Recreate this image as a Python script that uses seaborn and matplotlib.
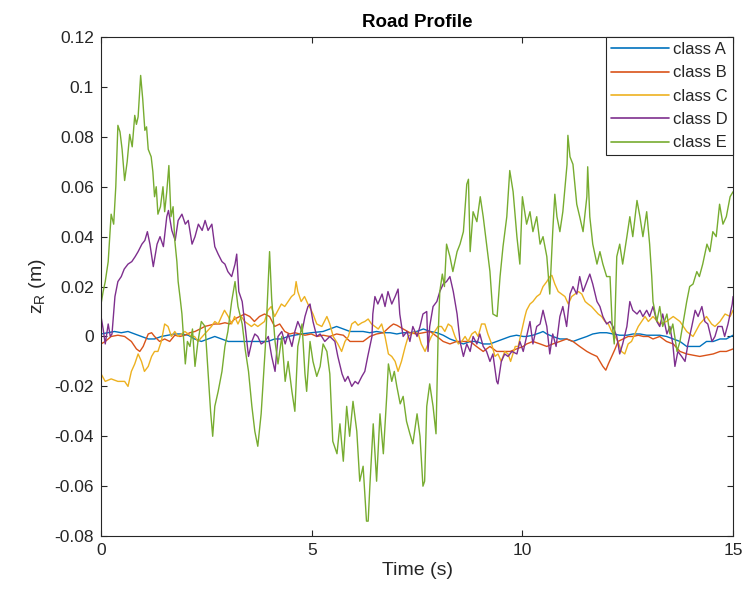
import numpy as np
import pandas as pd
import matplotlib
matplotlib.use("Agg")
import matplotlib.pyplot as plt
from matplotlib.ticker import FuncFormatter
import seaborn as sns

# ---------------- data ----------------
classes = ["class A", "class B", "class C", "class D", "class E"]
colors = ["#0072BD", "#D95319", "#EDB120", "#7E2F8E", "#77AC30"]

t_A = [0.0, 0.16, 0.32, 0.48, 0.64, 0.8, 0.96, 1.12, 1.27, 1.43, 1.59, 1.75, 1.91, 2.07, 2.22, 2.38, 2.54, 2.7,
       2.86, 3.02, 3.17, 3.33, 3.49, 3.64, 3.8, 3.96, 4.12, 4.28, 4.44, 4.59, 4.75, 4.99, 5.27, 5.43, 5.59, 5.75,
       5.91, 6.07, 6.22, 6.38, 6.54, 6.7, 6.86, 7.02, 7.17, 7.33, 7.49, 7.65, 7.81, 7.97, 8.12, 8.28, 8.44, 8.6,
       8.76, 8.91, 9.07, 9.23, 9.39, 9.55, 9.71, 9.86, 10.02, 10.1, 10.25, 10.42, 10.49, 10.58, 10.72, 10.89,
       11.05, 11.2, 11.36, 11.53, 11.67, 11.84, 12.0, 12.15, 12.31, 12.48, 12.63, 12.79, 12.95, 13.1, 13.26,
       13.42, 13.58, 13.74, 13.9, 14.05, 14.21, 14.37, 14.53, 14.69, 14.84, 15.0]
z_A = [0.001, 0.0015, 0.002, 0.0015, 0.002, 0.001, 0.0, -0.001, -0.001, 0.0, 0.0005, 0.001, 0.001, 0.0005, -0.001,
       -0.002, -0.001, 0.0, -0.001, -0.002, -0.002, -0.002, -0.002, -0.002, -0.002, -0.002, -0.001, -0.001, 0.0,
       0.0005, 0.001, 0.0015, 0.002, 0.003, 0.004, 0.003, 0.002, 0.002, 0.002, 0.0015, 0.002, 0.0015, 0.0015, 0.001,
       0.0015, 0.0015, 0.002, 0.003, 0.002, 0.0015, 0.0005, -0.001, -0.002, -0.003, -0.002, -0.002, -0.003, -0.003,
       -0.002, -0.001, 0.0, 0.0005, 0.0, 0.0, 0.0005, 0.0015, 0.002, 0.001, 0.0, -0.001, -0.001, -0.002, -0.001, 0.0,
       0.001, 0.0015, 0.0015, 0.001, 0.0005, 0.0005, 0.001, 0.001, 0.0005, 0.0005, 0.0005, 0.0, -0.001, -0.002,
       -0.004, -0.004, -0.004, -0.002, -0.002, -0.001, -0.001, 0.0005]

t_B = [0.0, 0.1, 0.24, 0.4, 0.56, 0.72, 0.84, 0.92, 1.0, 1.12, 1.2, 1.27, 1.39, 1.51, 1.63, 1.75, 1.87, 1.99, 2.11,
       2.23, 2.35, 2.46, 2.58, 2.7, 2.82, 2.94, 3.06, 3.17, 3.29, 3.41, 3.53, 3.64, 3.76, 3.88, 4.0, 4.12, 4.24,
       4.36, 4.48, 4.6, 4.72, 4.84, 4.99, 5.12, 5.27, 5.43, 5.59, 5.75, 5.91, 6.07, 6.22, 6.38, 6.54, 6.7, 6.86,
       6.94, 7.02, 7.17, 7.33, 7.49, 7.65, 7.81, 7.97, 8.12, 8.28, 8.44, 8.6, 8.76, 8.91, 9.07, 9.23, 9.39, 9.55,
       9.71, 9.86, 10.02, 10.1, 10.25, 10.42, 10.58, 10.72, 10.89, 11.05, 11.2, 11.36, 11.53, 11.64, 11.77, 11.84,
       11.91, 11.98, 12.04, 12.12, 12.2, 12.27, 12.39, 12.51, 12.63, 12.75, 12.87, 12.99, 13.1, 13.26, 13.42, 13.58,
       13.74, 13.9, 14.05, 14.21, 14.37, 14.53, 14.69, 14.84, 15.0]
z_B = [-0.003, -0.002, 0.0, 0.0005, 0.0, -0.002, -0.005, -0.006, -0.004, 0.001, 0.0015, 0.0, -0.002, -0.001, -0.002,
       0.0005, 0.0, 0.0005, 0.0015, 0.002, 0.003, 0.004, 0.0045, 0.005, 0.005, 0.0055, 0.005, 0.007, 0.008, 0.009,
       0.008, 0.006, 0.008, 0.009, 0.008, 0.004, 0.005, 0.002, 0.001, 0.0015, 0.001, 0.0005, 0.001, 0.0, 0.0005, 0.0,
       0.001, 0.0005, -0.002, -0.002, -0.002, 0.0, 0.001, 0.0015, 0.004, 0.005, 0.0045, 0.003, 0.0015, 0.001, 0.0015,
       0.002, 0.0, -0.002, -0.003, -0.002, -0.002, -0.002, -0.004, -0.006, -0.004, -0.006, -0.006, -0.006, -0.005,
       -0.004, -0.003, -0.002, -0.003, -0.004, -0.003, -0.002, -0.001, -0.002, -0.004, -0.006, -0.007, -0.008,
       -0.01, -0.012, -0.0135, -0.011, -0.008, -0.005, -0.002, -0.001, 0.0, 0.0, 0.0005, 0.0, 0.0, -0.001, 0.0,
       -0.002, -0.003, -0.006, -0.007, -0.0075, -0.008, -0.0075, -0.007, -0.006, -0.006, -0.005]

t_C = [0.0, 0.1, 0.24, 0.4, 0.56, 0.64, 0.72, 0.8, 0.88, 0.96, 1.03, 1.12, 1.2, 1.27, 1.35, 1.43, 1.51, 1.59, 1.67,
       1.75, 1.83, 1.91, 1.99, 2.07, 2.15, 2.22, 2.3, 2.46, 2.62, 2.7, 2.78, 2.86, 2.93, 3.02, 3.1, 3.17, 3.25, 3.33,
       3.41, 3.57, 3.64, 3.72, 3.8, 3.88, 3.96, 4.04, 4.12, 4.2, 4.28, 4.36, 4.44, 4.52, 4.59, 4.63, 4.67, 4.75,
       4.83, 4.91, 4.99, 5.03, 5.12, 5.24, 5.36, 5.43, 5.51, 5.62, 5.71, 5.79, 5.87, 5.95, 6.03, 6.1, 6.19, 6.26,
       6.34, 6.42, 6.5, 6.58, 6.66, 6.74, 6.82, 6.9, 6.98, 7.05, 7.13, 7.22, 7.29, 7.37, 7.45, 7.53, 7.6, 7.69,
       7.76, 7.84, 7.92, 8.0, 8.08, 8.16, 8.24, 8.32, 8.4, 8.48, 8.56, 8.64, 8.71, 8.8, 8.88, 8.95, 9.03, 9.11,
       9.18, 9.27, 9.35, 9.42, 9.5, 9.58, 9.66, 9.72, 9.83, 9.9, 9.98, 10.06, 10.1, 10.18, 10.25, 10.34, 10.42,
       10.49, 10.58, 10.65, 10.7, 10.77, 10.85, 10.93, 11.01, 11.09, 11.17, 11.25, 11.33, 11.41, 11.49, 11.56,
       11.64, 11.72, 11.8, 11.88, 11.96, 12.04, 12.12, 12.2, 12.27, 12.35, 12.43, 12.51, 12.59, 12.67, 12.75,
       12.83, 12.91, 12.99, 13.1, 13.26, 13.42, 13.58, 13.74, 13.9, 14.05, 14.21, 14.37, 14.49, 14.57, 14.69,
       14.81, 14.93, 15.0]
z_C = [-0.015, -0.018, -0.017, -0.018, -0.018, -0.02, -0.014, -0.011, -0.007, -0.01, -0.014, -0.012, -0.008, -0.006,
       -0.006, -0.002, 0.005, 0.004, 0.0, 0.002, 0.0, 0.001, 0.002, 0.001, 0.0, 0.0, -0.002, 0.001, 0.004, 0.006,
       0.005, 0.008, 0.0105, 0.008, 0.005, 0.008, 0.005, 0.008, 0.006, 0.004, 0.005, 0.004, 0.005, 0.006, 0.0105,
       0.012, 0.008, 0.0105, 0.013, 0.012, 0.014, 0.016, 0.017, 0.022, 0.018, 0.014, 0.016, 0.013, 0.0105, 0.009,
       0.005, 0.004, 0.008, 0.005, 0.0, -0.003, -0.006, -0.002, 0.0, 0.005, 0.006, 0.0045, 0.0055, 0.006, 0.007,
       0.005, 0.004, 0.003, 0.005, 0.0, -0.007, -0.008, -0.01, -0.014, -0.01, -0.004, 0.0, 0.001, 0.002, 0.001,
       -0.003, -0.006, -0.003, 0.0, 0.002, 0.004, 0.004, 0.002, 0.005, 0.004, 0.0, -0.003, -0.002, 0.0, -0.002,
       0.001, 0.002, 0.0, 0.005, 0.005, 0.001, -0.003, -0.008, -0.007, -0.01, -0.006, -0.007, -0.01, -0.004, -0.004,
       0.002, 0.008, 0.0105, 0.013, 0.014, 0.016, 0.017, 0.02, 0.022, 0.024, 0.0245, 0.021, 0.018, 0.017, 0.016,
       0.013, 0.016, 0.017, 0.018, 0.017, 0.014, 0.013, 0.012, 0.0105, 0.009, 0.008, 0.006, 0.005, 0.002, 0.0,
       -0.002, -0.006, -0.007, -0.003, -0.002, 0.001, 0.004, 0.006, 0.008, 0.006, 0.008, 0.005, 0.006, 0.008,
       0.006, 0.002, 0.0, 0.005, 0.008, 0.005, 0.004, 0.006, 0.009, 0.008, 0.0105]

t_D = [0.0, 0.05, 0.1, 0.17, 0.22, 0.26, 0.33, 0.4, 0.48, 0.55, 0.64, 0.73, 0.81, 0.88, 0.97, 1.04, 1.1, 1.16, 1.24,
       1.33, 1.4, 1.48, 1.56, 1.6, 1.68, 1.76, 1.83, 1.92, 2.0, 2.07, 2.16, 2.23, 2.31, 2.4, 2.47, 2.54, 2.63, 2.7,
       2.78, 2.87, 2.94, 3.01, 3.1, 3.18, 3.22, 3.27, 3.35, 3.42, 3.5, 3.58, 3.65, 3.72, 3.8, 3.89, 3.97, 4.05,
       4.13, 4.2, 4.29, 4.37, 4.44, 4.53, 4.6, 4.67, 4.77, 4.84, 4.91, 4.96, 5.03, 5.12, 5.2, 5.31, 5.43, 5.55,
       5.62, 5.72, 5.79, 5.86, 5.95, 6.03, 6.1, 6.19, 6.26, 6.33, 6.43, 6.45, 6.5, 6.57, 6.67, 6.74, 6.81, 6.9,
       6.98, 7.05, 7.09, 7.17, 7.26, 7.33, 7.4, 7.5, 7.57, 7.64, 7.73, 7.76, 7.8, 7.88, 7.97, 8.04, 8.12, 8.2,
       8.28, 8.36, 8.45, 8.52, 8.6, 8.68, 8.76, 8.83, 8.92, 8.99, 9.07, 9.15, 9.23, 9.3, 9.39, 9.42, 9.5, 9.58,
       9.66, 9.75, 9.87, 9.94, 10.02, 10.1, 10.18, 10.25, 10.34, 10.42, 10.49, 10.58, 10.65, 10.72, 10.8, 10.89,
       10.96, 11.05, 11.13, 11.2, 11.29, 11.36, 11.44, 11.53, 11.6, 11.67, 11.77, 11.84, 11.91, 12.0, 12.08,
       12.15, 12.24, 12.31, 12.38, 12.48, 12.55, 12.62, 12.72, 12.79, 12.86, 12.95, 13.02, 13.1, 13.19, 13.26,
       13.33, 13.43, 13.5, 13.57, 13.62, 13.69, 13.78, 13.86, 13.93, 14.02, 14.1, 14.17, 14.26, 14.33, 14.4,
       14.5, 14.57, 14.64, 14.74, 14.8, 14.88, 14.98, 15.0]
z_D = [0.008, 0.003, -0.003, 0.005, 0.0, 0.001, 0.016, 0.022, 0.024, 0.027, 0.029, 0.03, 0.032, 0.034, 0.037, 0.0385,
       0.042, 0.037, 0.028, 0.037, 0.04, 0.036, 0.048, 0.0505, 0.0425, 0.0385, 0.0465, 0.049, 0.045, 0.0465, 0.037,
       0.04, 0.045, 0.0425, 0.0465, 0.0425, 0.045, 0.036, 0.033, 0.03, 0.029, 0.026, 0.024, 0.029, 0.033, 0.018,
       0.014, 0.004, -0.008, -0.002, 0.001, 0.0, -0.003, -0.002, 0.0, -0.008, -0.014, 0.0, 0.002, -0.003, 0.001,
       -0.004, 0.002, 0.006, 0.002, 0.008, 0.012, 0.013, 0.006, 0.0, 0.001, -0.002, 0.0, -0.002, -0.008, -0.015,
       -0.018, -0.016, -0.02, -0.018, -0.019, -0.016, -0.014, -0.008, 0.0, 0.009, 0.016, 0.013, 0.017, 0.012, 0.018,
       0.013, 0.016, 0.019, 0.009, 0.0, 0.002, -0.002, 0.004, 0.0, 0.004, 0.009, 0.01, -0.006, 0.004, 0.012, 0.014,
       0.018, 0.021, 0.022, 0.024, 0.018, 0.009, -0.002, -0.008, -0.003, -0.006, 0.0, -0.003, 0.001, -0.004, -0.006,
       -0.01, -0.007, -0.018, -0.019, -0.01, -0.007, -0.008, -0.006, -0.007, -0.002, -0.006, 0.0, 0.006, -0.003,
       0.004, 0.005, 0.0105, 0.004, -0.007, 0.001, -0.004, 0.008, 0.012, 0.004, 0.017, 0.02, 0.017, 0.024, 0.018,
       0.022, 0.025, 0.021, 0.014, 0.012, 0.008, 0.005, 0.006, 0.004, 0.0, -0.007, -0.003, 0.004, 0.014, 0.0105,
       0.009, 0.0105, 0.008, 0.0105, 0.008, 0.012, 0.006, 0.004, 0.009, 0.001, 0.004, -0.003, -0.012, -0.006, -0.008,
       -0.01, -0.003, 0.004, 0.0105, 0.008, 0.012, 0.006, 0.005, -0.002, 0.0, 0.004, 0.004, 0.0, 0.005, 0.013, 0.016]

t_E = [0.0, 0.05, 0.1, 0.17, 0.24, 0.3, 0.35, 0.4, 0.45, 0.5, 0.56, 0.62, 0.68, 0.74, 0.8, 0.84, 0.88, 0.94, 0.99,
       1.04, 1.08, 1.12, 1.19, 1.23, 1.27, 1.31, 1.35, 1.41, 1.47, 1.51, 1.56, 1.61, 1.66, 1.71, 1.75, 1.8, 1.83,
       1.88, 1.92, 2.0, 2.05, 2.11, 2.17, 2.23, 2.3, 2.38, 2.47, 2.54, 2.6, 2.65, 2.7, 2.78, 2.87, 2.94, 3.01, 3.1,
       3.18, 3.25, 3.35, 3.42, 3.5, 3.58, 3.65, 3.72, 3.8, 3.86, 3.9, 3.97, 4.0, 4.05, 4.13, 4.2, 4.29, 4.37, 4.44,
       4.53, 4.6, 4.67, 4.72, 4.77, 4.84, 4.88, 4.96, 5.03, 5.12, 5.2, 5.27, 5.36, 5.43, 5.5, 5.6, 5.67, 5.75, 5.83,
       5.9, 5.98, 6.07, 6.14, 6.22, 6.3, 6.34, 6.38, 6.46, 6.54, 6.62, 6.7, 6.78, 6.82, 6.9, 6.96, 7.02, 7.1, 7.17,
       7.25, 7.33, 7.4, 7.5, 7.57, 7.64, 7.68, 7.73, 7.8, 7.88, 7.95, 8.0, 8.04, 8.1, 8.15, 8.2, 8.28, 8.35, 8.45,
       8.52, 8.6, 8.68, 8.72, 8.76, 8.83, 8.92, 9.0, 9.07, 9.15, 9.23, 9.3, 9.4, 9.47, 9.54, 9.63, 9.7, 9.78, 9.87,
       9.94, 10.0, 10.1, 10.18, 10.25, 10.34, 10.42, 10.49, 10.58, 10.65, 10.72, 10.77, 10.82, 10.89, 10.96,
       11.06, 11.08, 11.13, 11.2, 11.29, 11.36, 11.44, 11.53, 11.55, 11.6, 11.67, 11.77, 11.84, 11.91, 12.0,
       12.08, 12.13, 12.18, 12.24, 12.31, 12.38, 12.48, 12.55, 12.62, 12.72, 12.79, 12.86, 12.95, 13.02, 13.07,
       13.1, 13.19, 13.26, 13.33, 13.43, 13.5, 13.57, 13.67, 13.74, 13.81, 13.9, 13.97, 14.05, 14.14, 14.2,
       14.28, 14.38, 14.45, 14.52, 14.6, 14.68, 14.76, 14.84, 14.93, 15.0]
z_E = [0.013, 0.018, 0.022, 0.03, 0.049, 0.045, 0.06, 0.0846, 0.082, 0.075, 0.0625, 0.07, 0.081, 0.076, 0.0886,
       0.085, 0.088, 0.1046, 0.095, 0.0826, 0.084, 0.075, 0.072, 0.066, 0.056, 0.06, 0.049, 0.052, 0.06, 0.05,
       0.058, 0.0685, 0.048, 0.052, 0.0385, 0.03, 0.022, 0.015, 0.009, -0.011, -0.002, -0.004, 0.003, -0.012,
       -0.002, 0.006, 0.004, -0.014, -0.03, -0.04, -0.028, -0.022, -0.014, -0.004, 0.002, 0.014, 0.022, 0.012,
       0.005, -0.005, -0.014, -0.028, -0.038, -0.044, -0.031, -0.015, -0.004, 0.022, 0.034, 0.015, -0.002, -0.011,
       0.0, -0.018, -0.01, -0.022, -0.03, -0.004, 0.0, 0.005, -0.015, -0.022, -0.002, -0.01, -0.016, -0.012, -0.003,
       -0.006, -0.015, -0.042, -0.047, -0.035, -0.05, -0.028, -0.04, -0.026, -0.038, -0.058, -0.052, -0.074, -0.074,
       -0.06, -0.035, -0.058, -0.031, -0.047, -0.024, -0.011, -0.018, -0.014, -0.02, -0.027, -0.024, -0.034, -0.039,
       -0.043, -0.031, -0.04, -0.06, -0.058, -0.028, -0.019, -0.028, -0.039, 0.0, 0.018, 0.025, 0.02, 0.037, 0.032,
       0.026, 0.034, 0.037, 0.042, 0.061, 0.063, 0.034, 0.05, 0.046, 0.056, 0.048, 0.037, 0.026, 0.009, 0.008,
       0.024, 0.036, 0.048, 0.0665, 0.058, 0.04, 0.029, 0.056, 0.045, 0.05, 0.042, 0.048, 0.037, 0.04, 0.032, 0.017,
       0.042, 0.057, 0.048, 0.042, 0.05, 0.069, 0.0806, 0.072, 0.069, 0.053, 0.048, 0.042, 0.056, 0.068, 0.048,
       0.037, 0.029, 0.034, 0.029, 0.024, 0.024, 0.005, -0.003, 0.032, 0.037, 0.029, 0.04, 0.048, 0.04, 0.0545,
       0.048, 0.04, 0.05, 0.037, 0.024, 0.014, 0.006, 0.012, 0.004, 0.009, 0.001, 0.005, -0.006, -0.002, 0.005,
       0.014, 0.02, 0.021, 0.026, 0.024, 0.029, 0.037, 0.034, 0.042, 0.04, 0.053, 0.045, 0.048, 0.056, 0.058]

x_ticks = [0, 5, 10, 15]
y_ticks = [-0.08, -0.06, -0.04, -0.02, 0, 0.02, 0.04, 0.06, 0.08, 0.1, 0.12]

# ---------------- build long table ----------------
frames = []
for name, t, z in zip(classes, [t_A, t_B, t_C, t_D, t_E], [z_A, z_B, z_C, z_D, z_E]):
    frames.append(pd.DataFrame({"t": t, "z": z, "cls": name}))
df = pd.concat(frames, ignore_index=True)

# ---------------- plot ----------------
sns.set_style("white")
plt.rcParams["font.family"] = ["Liberation Sans", "DejaVu Sans"]
plt.rcParams["axes.unicode_minus"] = False

fig = plt.figure(figsize=(7.44, 5.97), dpi=100)
ax = fig.add_axes([0.1358, 0.102, 0.8495, 0.836])

sns.lineplot(data=df, x="t", y="z", hue="cls", hue_order=classes,
             palette=dict(zip(classes, colors)), estimator=None, sort=False,
             linewidth=1.0, ax=ax)

ax.set_xlim(0, 15)
ax.set_ylim(-0.08, 0.12)
ax.set_xticks(x_ticks)
ax.set_yticks(y_ticks)
ax.xaxis.set_major_formatter(FuncFormatter(lambda v, p: "%g" % round(v, 4)))
ax.yaxis.set_major_formatter(FuncFormatter(lambda v, p: "%g" % round(v, 4)))

edge = "#262626"
for s in ax.spines.values():
    s.set_visible(True)
    s.set_color(edge)
    s.set_linewidth(0.8)
ax.tick_params(direction="in", length=4.5, width=0.8, colors=edge, labelsize=12.5,
               top=True, right=True, bottom=True, left=True, pad=5)
for lab in ax.get_xticklabels() + ax.get_yticklabels():
    lab.set_color(edge)

ax.set_title("Road Profile", fontsize=13.5, fontweight="bold", color="black", pad=7)
ax.set_xlabel("Time (s)", fontsize=14, color=edge, labelpad=3)
ax.set_ylabel(r"z$_\mathregular{R}$ (m)", fontsize=14, color=edge, labelpad=5)

leg = ax.legend(loc="upper right", frameon=True, fancybox=False, fontsize=12,
                borderaxespad=0.0, handlelength=3.5, handletextpad=0.25,
                labelspacing=0.5, borderpad=0.3)
leg.get_frame().set_edgecolor(edge)
leg.get_frame().set_linewidth(0.8)
leg.get_frame().set_alpha(1)
for h in leg.get_lines():
    h.set_linewidth(1.2)
leg.set_title(None)

fig.savefig("out.png", dpi=100, facecolor="white")
